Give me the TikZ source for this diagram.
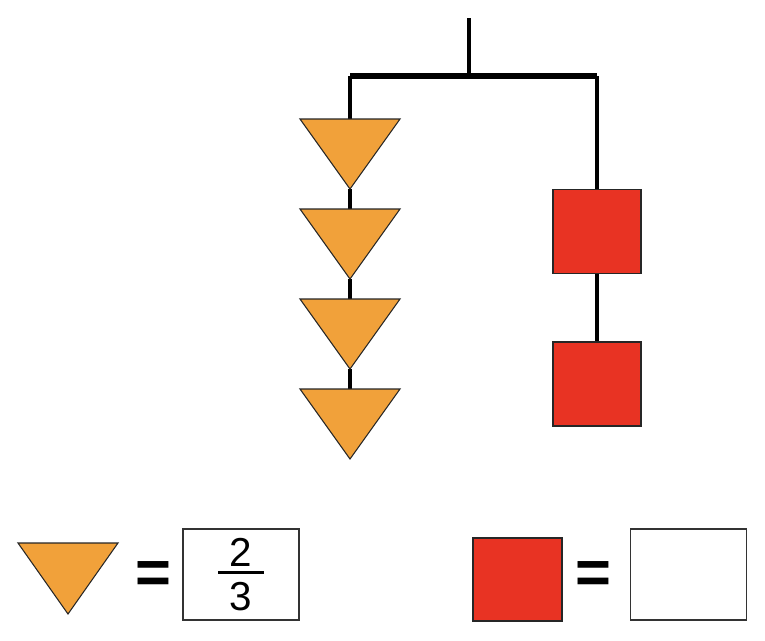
\documentclass[tikz,border=0pt]{standalone}
\usepackage{amsmath}
\usepackage{fontspec}
\setmainfont{Liberation Sans}
\usetikzlibrary{positioning, calc}

\definecolor{triorange}{RGB}{241,161,58}
\definecolor{sqred}{RGB}{232,51,35}

\begin{document}
\begin{tikzpicture}[
  x=0.02cm, y=-0.02cm,
  string/.style={line width=2pt, black},
  bar/.style={line width=3pt, black},
  tri/.style={draw=black!85, line width=0.6pt, fill=triorange, line join=miter},
  sq/.style={draw=black!85, line width=0.8pt, fill=sqred, inner sep=0pt, minimum width=1.76cm, minimum height=1.68cm},
  ansbox/.style={draw=black!80, line width=0.9pt, fill=white, inner sep=0pt, minimum width=2.32cm, minimum height=1.82cm},
  eq/.style={font=\fontsize{35}{40}\selectfont\bfseries, inner sep=0pt},
]
\useasboundingbox (0,0) rectangle (765,640);

% hanger
\coordinate (hook) at (469,18);
\coordinate (mid) at (469,76);
\coordinate (barL) at (350,76);
\coordinate (barR) at (597,76);

% left arm: four triangles
\foreach \i/\y in {1/119,2/209,3/299,4/389} {
  \coordinate (t\i-top) at (350,\y);
  \coordinate (t\i-tip) at (350,\y+70);
}
\draw[string] (barL) -- (t1-top);
\draw[string] (t1-tip) -- (t2-top);
\draw[string] (t2-tip) -- (t3-top);
\draw[string] (t3-tip) -- (t4-top);
\foreach \i/\y in {1/119,2/209,3/299,4/389} {
  \draw[tri] (300,\y) -- (400,\y) -- (t\i-tip) -- cycle;
}

% right arm: two squares
\node[sq] (sq1) at (597,231.5) {};
\node[sq] (sq2) at (597,384) {};
\draw[string] (barR) -- (sq1.north);
\draw[string] (sq1.south) -- (sq2.north);

\draw[string] (hook) -- (mid);
\draw[bar] (barL) -- (barR);

% key
\draw[tri] (18,543) -- (118,543) -- (68,614) -- cycle;
\node[eq] (eq1) at (153,578) {=};
\node[ansbox] (ans1) at (241,574.5) {\fontsize{23}{28}\selectfont$\genfrac{}{}{1.6pt}{1}{\makebox[0.92cm]{2}}{\makebox[0.92cm]{\rule{0pt}{0.68cm}3}}$};

\node[sq, minimum width=1.78cm, minimum height=1.66cm] (keysq) at (517.5,579.5) {};
\node[eq] (eq2) at (593,578) {=};
\node[ansbox] (ans2) at (688.5,574.5) {};

\end{tikzpicture}
\end{document}
